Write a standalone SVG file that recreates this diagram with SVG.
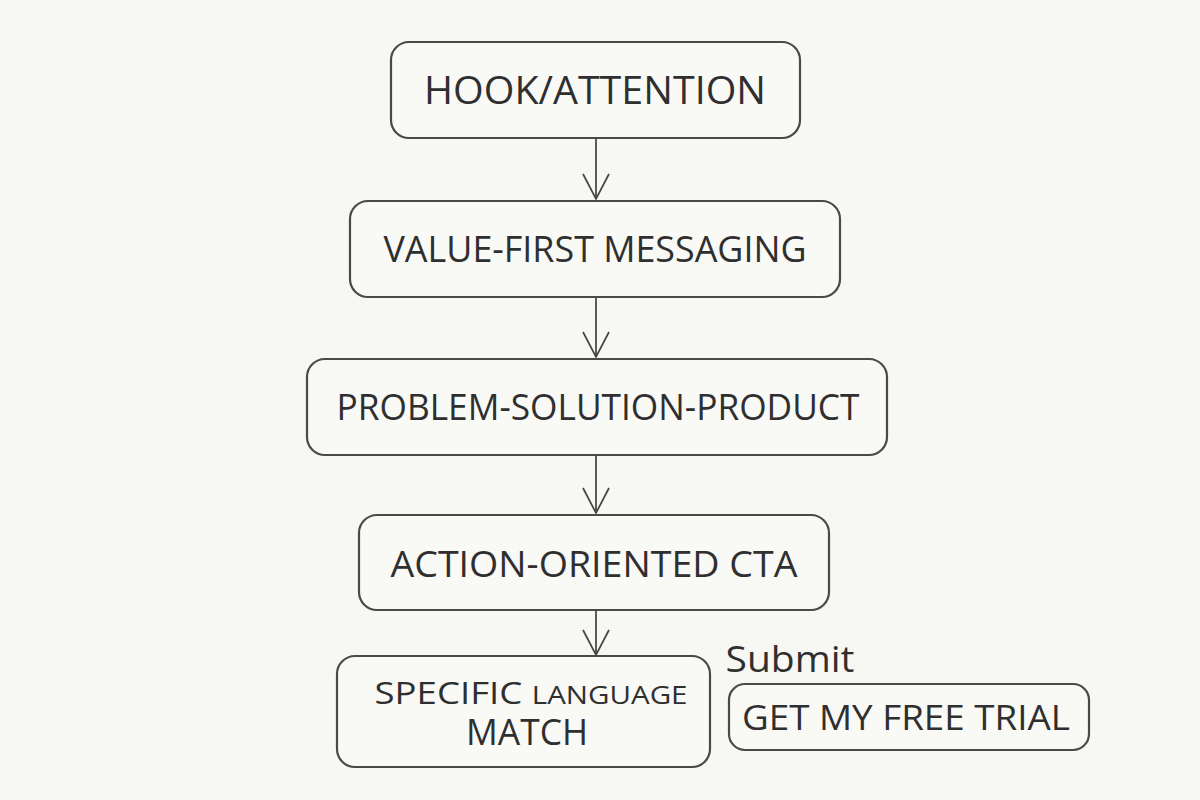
<svg xmlns="http://www.w3.org/2000/svg" width="1200" height="800" viewBox="0 0 1200 800">
<defs>
<marker id="arr" viewBox="0 0 30 30" refX="27" refY="15" markerWidth="30" markerHeight="30" markerUnits="userSpaceOnUse" orient="auto">
<path d="M2,2 L27,15 L2,28" fill="none" stroke="#444" stroke-width="1.7"/>
</marker>
<style>
.box{fill:#f9f9f6;stroke:#4a4a4a;stroke-width:2.2}
.t{font-family:"Open Sans","Liberation Sans",sans-serif;fill:#2f2f2f;text-anchor:middle}
.c{stroke:#4a4a4a;stroke-width:1.8;fill:none}
</style>
</defs>
<rect width="1200" height="800" fill="#f7f7f3"/>
<g id="connectors">
<line class="c" x1="596" y1="138" x2="596" y2="199" marker-end="url(#arr)"/>
<line class="c" x1="596" y1="297" x2="596" y2="357" marker-end="url(#arr)"/>
<line class="c" x1="596" y1="455" x2="596" y2="513" marker-end="url(#arr)"/>
<line class="c" x1="596" y1="610" x2="596" y2="655" marker-end="url(#arr)"/>
</g>
<g id="n1">
<rect class="box" x="391" y="42" width="409" height="96" rx="18"/>
<text class="t" x="595" y="104" font-size="38" textLength="342" lengthAdjust="spacingAndGlyphs">HOOK/ATTENTION</text>
</g>
<g id="n2">
<rect class="box" x="350" y="201" width="490" height="96" rx="18"/>
<text class="t" x="595" y="262" font-size="36" textLength="423" lengthAdjust="spacingAndGlyphs">VALUE-FIRST MESSAGING</text>
</g>
<g id="n3">
<rect class="box" x="307" y="359" width="580" height="96" rx="18"/>
<text class="t" x="598" y="420" font-size="36" textLength="523" lengthAdjust="spacingAndGlyphs">PROBLEM-SOLUTION-PRODUCT</text>
</g>
<g id="n4">
<rect class="box" x="359" y="515" width="470" height="95" rx="18"/>
<text class="t" x="594" y="577" font-size="36" textLength="407" lengthAdjust="spacingAndGlyphs">ACTION-ORIENTED CTA</text>
</g>
<g id="n5">
<rect class="box" x="337" y="656" width="373" height="111" rx="18"/>
<text class="t" x="531" y="704" textLength="313" lengthAdjust="spacingAndGlyphs"><tspan font-size="31">SPECIFIC </tspan><tspan font-size="25">LANGUAGE</tspan></text>
<text class="t" x="527" y="745" font-size="36" textLength="122" lengthAdjust="spacingAndGlyphs">MATCH</text>
</g>
<g id="n6">
<text class="t" x="790" y="672" font-size="36" textLength="129" lengthAdjust="spacingAndGlyphs">Submit</text>
<rect class="box" x="729" y="684" width="360" height="66" rx="16"/>
<text class="t" x="906" y="730" font-size="34" textLength="328" lengthAdjust="spacingAndGlyphs">GET MY FREE TRIAL</text>
</g>
</svg>
